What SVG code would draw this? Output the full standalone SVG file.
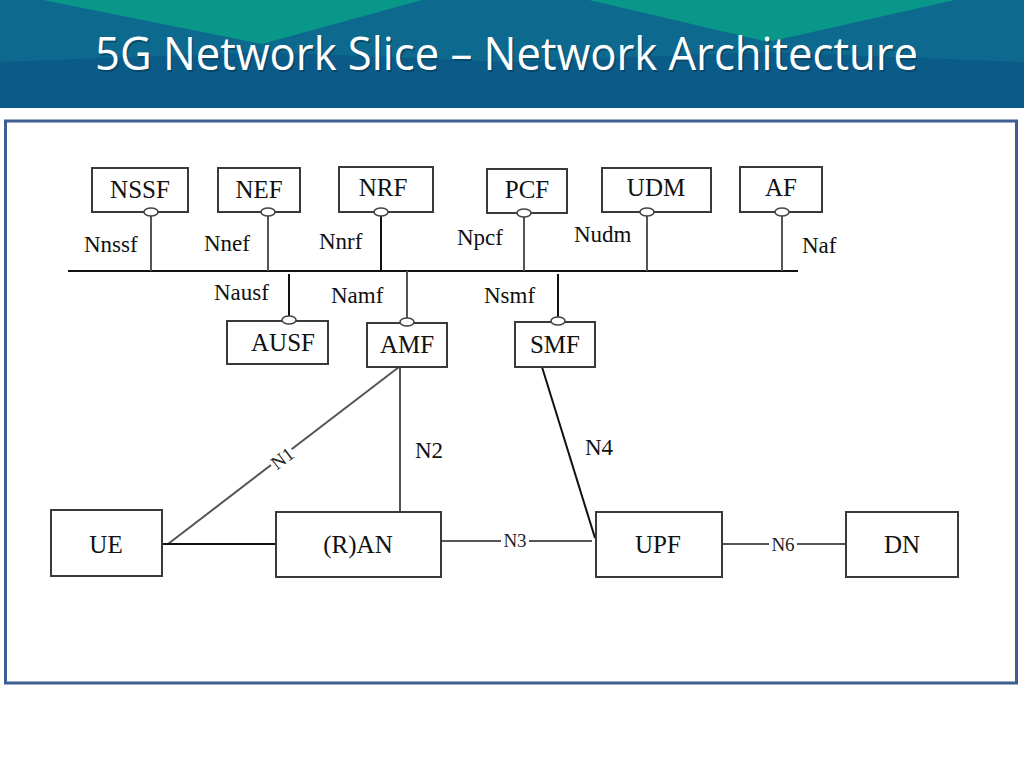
<svg xmlns="http://www.w3.org/2000/svg" width="1024" height="768" viewBox="0 0 1024 768">
<defs>
<style>
.box{fill:#fff;stroke:#3a3a3a;stroke-width:2}
.lbl{font-family:"Liberation Serif","Times New Roman",serif;font-size:25px;fill:#111;text-anchor:middle}
.ifl{font-family:"Liberation Serif","Times New Roman",serif;font-size:23px;fill:#111}
.sml{font-family:"Liberation Serif","Times New Roman",serif;font-size:19px;fill:#222;text-anchor:middle}
.ln{stroke:#555;stroke-width:2;fill:none}
.bus{stroke:#111;stroke-width:2;fill:none}
.ov{fill:#fff;stroke:#444;stroke-width:1.6}
</style>
</defs>
<rect width="1024" height="768" fill="#fff"/>
<g id="header">
<rect x="0" y="0" width="1024" height="108" fill="#0d6a8e"/>
<polygon points="0,108 0,62 260,52 512,62 512,108" fill="#0b5b88"/>
<polygon points="512,108 512,62 765,52 1024,62 1024,108" fill="#0b5b88"/>
<polygon points="43,0 422,0 262,44" fill="#089789"/>
<polygon points="589,0 955,0 768,42" fill="#089789"/>
<text x="96.5" y="71.5" font-family="'Open Sans','Noto Sans',sans-serif" font-size="46" fill="#063a55" opacity="0.6" textLength="823" lengthAdjust="spacingAndGlyphs">5G Network Slice – Network Architecture</text>
<text x="95" y="70" font-family="'Open Sans','Noto Sans',sans-serif" font-size="46" fill="#fff" textLength="823" lengthAdjust="spacingAndGlyphs">5G Network Slice – Network Architecture</text>
</g>
<rect id="frame" x="5.5" y="121" width="1011" height="562" fill="#fff" stroke="#3d5d93" stroke-width="3"/>
<g id="connectors">
<line class="bus" x1="68" y1="271" x2="798" y2="271"/>
<line class="ln" x1="151" y1="212" x2="151" y2="271"/>
<line class="ln" x1="268" y1="212" x2="268" y2="271"/>
<line class="bus" x1="381" y1="212" x2="381" y2="271"/>
<line class="ln" x1="524" y1="213" x2="524" y2="271"/>
<line class="ln" x1="647" y1="212" x2="647" y2="271"/>
<line class="ln" x1="782" y1="212" x2="782" y2="271"/>
<line class="bus" x1="289" y1="274" x2="289" y2="320"/>
<line class="ln" x1="407" y1="271" x2="407" y2="322"/>
<line class="bus" x1="558" y1="274" x2="558" y2="321"/>
<line class="ln" x1="168" y1="544" x2="399" y2="367"/>
<line class="bus" x1="162" y1="544" x2="276" y2="544"/>
<line class="ln" x1="400" y1="367" x2="400" y2="512"/>
<line class="ln" x1="441" y1="541" x2="592" y2="541"/>
<line class="bus" x1="542" y1="367" x2="595" y2="538"/>
<line class="ln" x1="722" y1="544" x2="846" y2="544"/>
<text class="ifl" x="84" y="252">Nnssf</text>
<text class="ifl" x="204" y="251">Nnef</text>
<text class="ifl" x="319" y="249">Nnrf</text>
<text class="ifl" x="457" y="245">Npcf</text>
<text class="ifl" x="574" y="242">Nudm</text>
<text class="ifl" x="802" y="253">Naf</text>
<text class="ifl" x="214" y="300">Nausf</text>
<text class="ifl" x="331" y="303">Namf</text>
<text class="ifl" x="484" y="303">Nsmf</text>
<text class="ifl" x="415" y="458">N2</text>
<text class="ifl" x="585" y="455">N4</text>
<g transform="translate(282,458) rotate(-37.5)">
<rect x="-13" y="-9" width="26" height="18" fill="#fff"/>
<text class="sml" x="0" y="7">N1</text>
</g>
<rect x="501" y="532" width="28" height="17" fill="#fff"/>
<text class="sml" x="515" y="547">N3</text>
<rect x="769" y="535" width="28" height="17" fill="#fff"/>
<text class="sml" x="783" y="551">N6</text>
</g>
<g id="NSSF"><rect class="box" x="92" y="168" width="96" height="44"/><text class="lbl" x="140" y="198">NSSF</text><ellipse class="ov" cx="151" cy="212" rx="7" ry="4"/></g>
<g id="NEF"><rect class="box" x="218" y="168" width="82" height="44"/><text class="lbl" x="259" y="198">NEF</text><ellipse class="ov" cx="268" cy="212" rx="7" ry="4"/></g>
<g id="NRF"><rect class="box" x="339" y="167" width="94" height="45"/><text class="lbl" x="383" y="196">NRF</text><ellipse class="ov" cx="381" cy="212" rx="7" ry="4"/></g>
<g id="PCF"><rect class="box" x="487" y="169" width="80" height="44"/><text class="lbl" x="527" y="198">PCF</text><ellipse class="ov" cx="524" cy="213" rx="7" ry="4"/></g>
<g id="UDM"><rect class="box" x="602" y="168" width="109" height="44"/><text class="lbl" x="656" y="196">UDM</text><ellipse class="ov" cx="647" cy="212" rx="7" ry="4"/></g>
<g id="AF"><rect class="box" x="740" y="167" width="82" height="45"/><text class="lbl" x="781" y="196">AF</text><ellipse class="ov" cx="782" cy="212" rx="7" ry="4"/></g>
<g id="AUSF"><rect class="box" x="227" y="321" width="101" height="43"/><text class="lbl" x="283" y="351">AUSF</text><ellipse class="ov" cx="289" cy="320" rx="7" ry="4"/></g>
<g id="AMF"><rect class="box" x="367" y="323" width="80" height="44"/><text class="lbl" x="407" y="353">AMF</text><ellipse class="ov" cx="407" cy="322" rx="7" ry="4"/></g>
<g id="SMF"><rect class="box" x="515" y="322" width="80" height="45"/><text class="lbl" x="555" y="353">SMF</text><ellipse class="ov" cx="558" cy="321" rx="7" ry="4"/></g>
<g id="UE"><rect class="box" x="51" y="510" width="111" height="66"/><text class="lbl" x="106" y="553">UE</text></g>
<g id="RAN"><rect class="box" x="276" y="512" width="165" height="65"/><text class="lbl" x="358" y="553">(R)AN</text></g>
<g id="UPF"><rect class="box" x="596" y="512" width="126" height="65"/><text class="lbl" x="658" y="553">UPF</text></g>
<g id="DN"><rect class="box" x="846" y="512" width="112" height="65"/><text class="lbl" x="902" y="553">DN</text></g>
</svg>
